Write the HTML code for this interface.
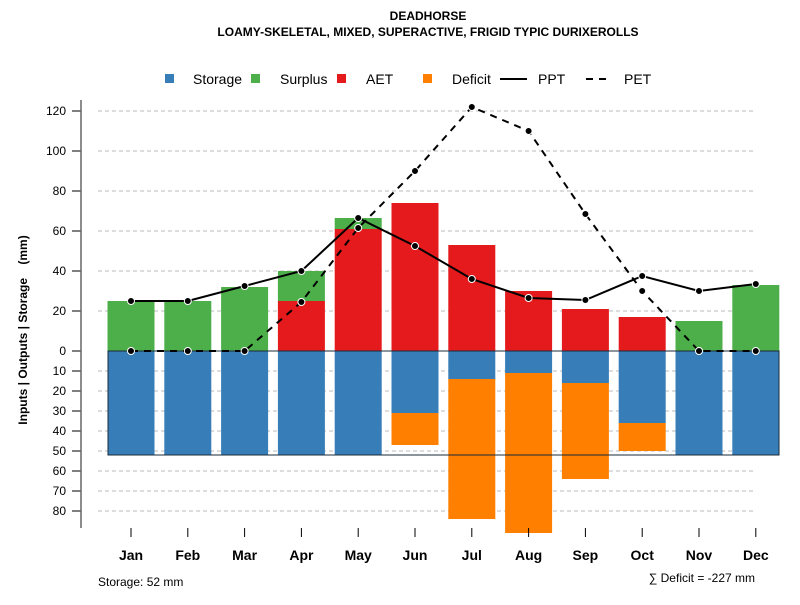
<!DOCTYPE html>
<html><head><meta charset="utf-8"><style>
body{margin:0;background:#fff;font-family:"Liberation Sans",sans-serif}
</style></head><body>
<svg id="chart" width="800" height="600" xmlns="http://www.w3.org/2000/svg" font-family="Liberation Sans, sans-serif">
<text x="428" y="20" text-anchor="middle" font-size="12" font-weight="bold">DEADHORSE</text>
<text x="428" y="36" text-anchor="middle" font-size="12" font-weight="bold">LOAMY-SKELETAL, MIXED, SUPERACTIVE, FRIGID TYPIC DURIXEROLLS</text>
<g font-size="14">
<rect x="165" y="74" width="9" height="9" fill="#377EB8"/><text x="193" y="84">Storage</text>
<rect x="251" y="74" width="9" height="9" fill="#4DAF4A"/><text x="280" y="84">Surplus</text>
<rect x="337" y="74" width="9" height="9" fill="#E41A1C"/><text x="366" y="84">AET</text>
<rect x="423" y="74" width="9" height="9" fill="#FF7F00"/><text x="452" y="84">Deficit</text>
<line x1="500" y1="79" x2="527" y2="79" stroke="#000" stroke-width="2"/><text x="538" y="84">PPT</text>
<line x1="586" y1="79" x2="608" y2="79" stroke="#000" stroke-width="2" stroke-dasharray="7,6"/><text x="624" y="84">PET</text>
</g>
<text transform="translate(27,330) rotate(-90)" text-anchor="middle" font-size="12" font-weight="bold" white-space="pre" style="white-space:pre">Inputs | Outputs | Storage    (mm)</text>
<g id="grid"></g><g id="bars"></g><g id="lines"></g><g id="axes"></g>
<text x="98" y="586" font-size="12">Storage: 52 mm</text>
<text x="755" y="582" text-anchor="end" font-size="12">∑ Deficit = -227 mm</text>
</svg>
<script>
const months=["Jan","Feb","Mar","Apr","May","Jun","Jul","Aug","Sep","Oct","Nov","Dec"];
const storage=[52,52,52,52,52,31,14,11,16,36,52,52];
const deficit=[0,0,0,0,0,16,70,80,48,14,0,0];
const aet=[0,0,0,25,61,74,53,30,21,17,0,0];
const surplus=[25,25,32,15,5.5,0,0,0,0,0,15,33];
const ppt=[25,25,32.5,40,66.5,52.5,36,26.5,25.5,37.5,30,33.5];
const pet=[0,0,0,24.5,61.5,90,122,110,68.5,30,0,0];
const upTicks=[0,20,40,60,80,100,120];
const downTicks=[10,20,30,40,50,60,70,80];
const NS="http://www.w3.org/2000/svg";
const y=v=>351-2*v;
const x=i=>131+i*56.8;
const BW=47;
function mk(tag,attrs,parent){const e=document.createElementNS(NS,tag);for(const k in attrs)e.setAttribute(k,attrs[k]);document.getElementById(parent).appendChild(e);return e;}
const allTicks=upTicks.map(v=>[v,y(v)]).concat(downTicks.map(v=>[v,y(-v)]));
allTicks.forEach(([v,py])=>{
  if(v!==0){const g=mk('line',{x1:98,x2:756,y1:py,y2:py,stroke:'#bbb','stroke-dasharray':'4,3'},'grid');
  
  }
  const t=mk('line',{x1:72,x2:81,y1:py,y2:py,stroke:'#000'},'axes');
  
  
  const l=mk('text',{x:66,y:py+4,'text-anchor':'end','font-size':12},'axes');l.textContent=v;
  
  
});
const ax=mk('line',{x1:81,x2:81,y1:100,y2:528,stroke:'#666','stroke-width':1.5},'axes');


months.forEach((m,i)=>{
  const cx=x(i),l=cx-BW/2;
  const s=mk('rect',{x:l,y:y(0),width:BW,height:2*storage[i],fill:'#377EB8'},'bars');
  
  
  if(deficit[i]>0){const d=mk('rect',{x:l,y:y(-storage[i]),width:BW,height:2*deficit[i],fill:'#FF7F00'},'bars');
  
  }
  if(aet[i]>0){const a=mk('rect',{x:l,y:y(aet[i]),width:BW,height:2*aet[i],fill:'#E41A1C'},'bars');
  
  }
  if(surplus[i]>0){const g=mk('rect',{x:l,y:y(aet[i]+surplus[i]),width:BW,height:2*surplus[i],fill:'#4DAF4A'},'bars');
  
  }
  const t=mk('line',{x1:cx,x2:cx,y1:528,y2:537,stroke:'#000'},'axes');
  
  
  const lb=mk('text',{x:cx,y:560,'text-anchor':'middle','font-size':14,'font-weight':'bold'},'axes');lb.textContent=m;
  
  
});
const box=mk('rect',{x:108,y:y(0),width:671,height:2*52,fill:'none',stroke:'#1a2a3a','stroke-width':1},'bars');


[[pet,'pet-line','7,6'],[ppt,'ppt-line',null]].forEach(([arr,name,dash])=>{
  const p=mk('polyline',{points:arr.map((v,i)=>x(i)+','+y(v)).join(' '),fill:'none',stroke:'#000','stroke-width':2},'lines');
  if(dash)p.setAttribute('stroke-dasharray',dash);
  
  
  arr.forEach((v,i)=>{const c=mk('circle',{cx:x(i),cy:y(v),r:3.5,fill:'#000',stroke:'#fff','stroke-width':1},'lines');
  
  });
});
</script>
</body></html>
